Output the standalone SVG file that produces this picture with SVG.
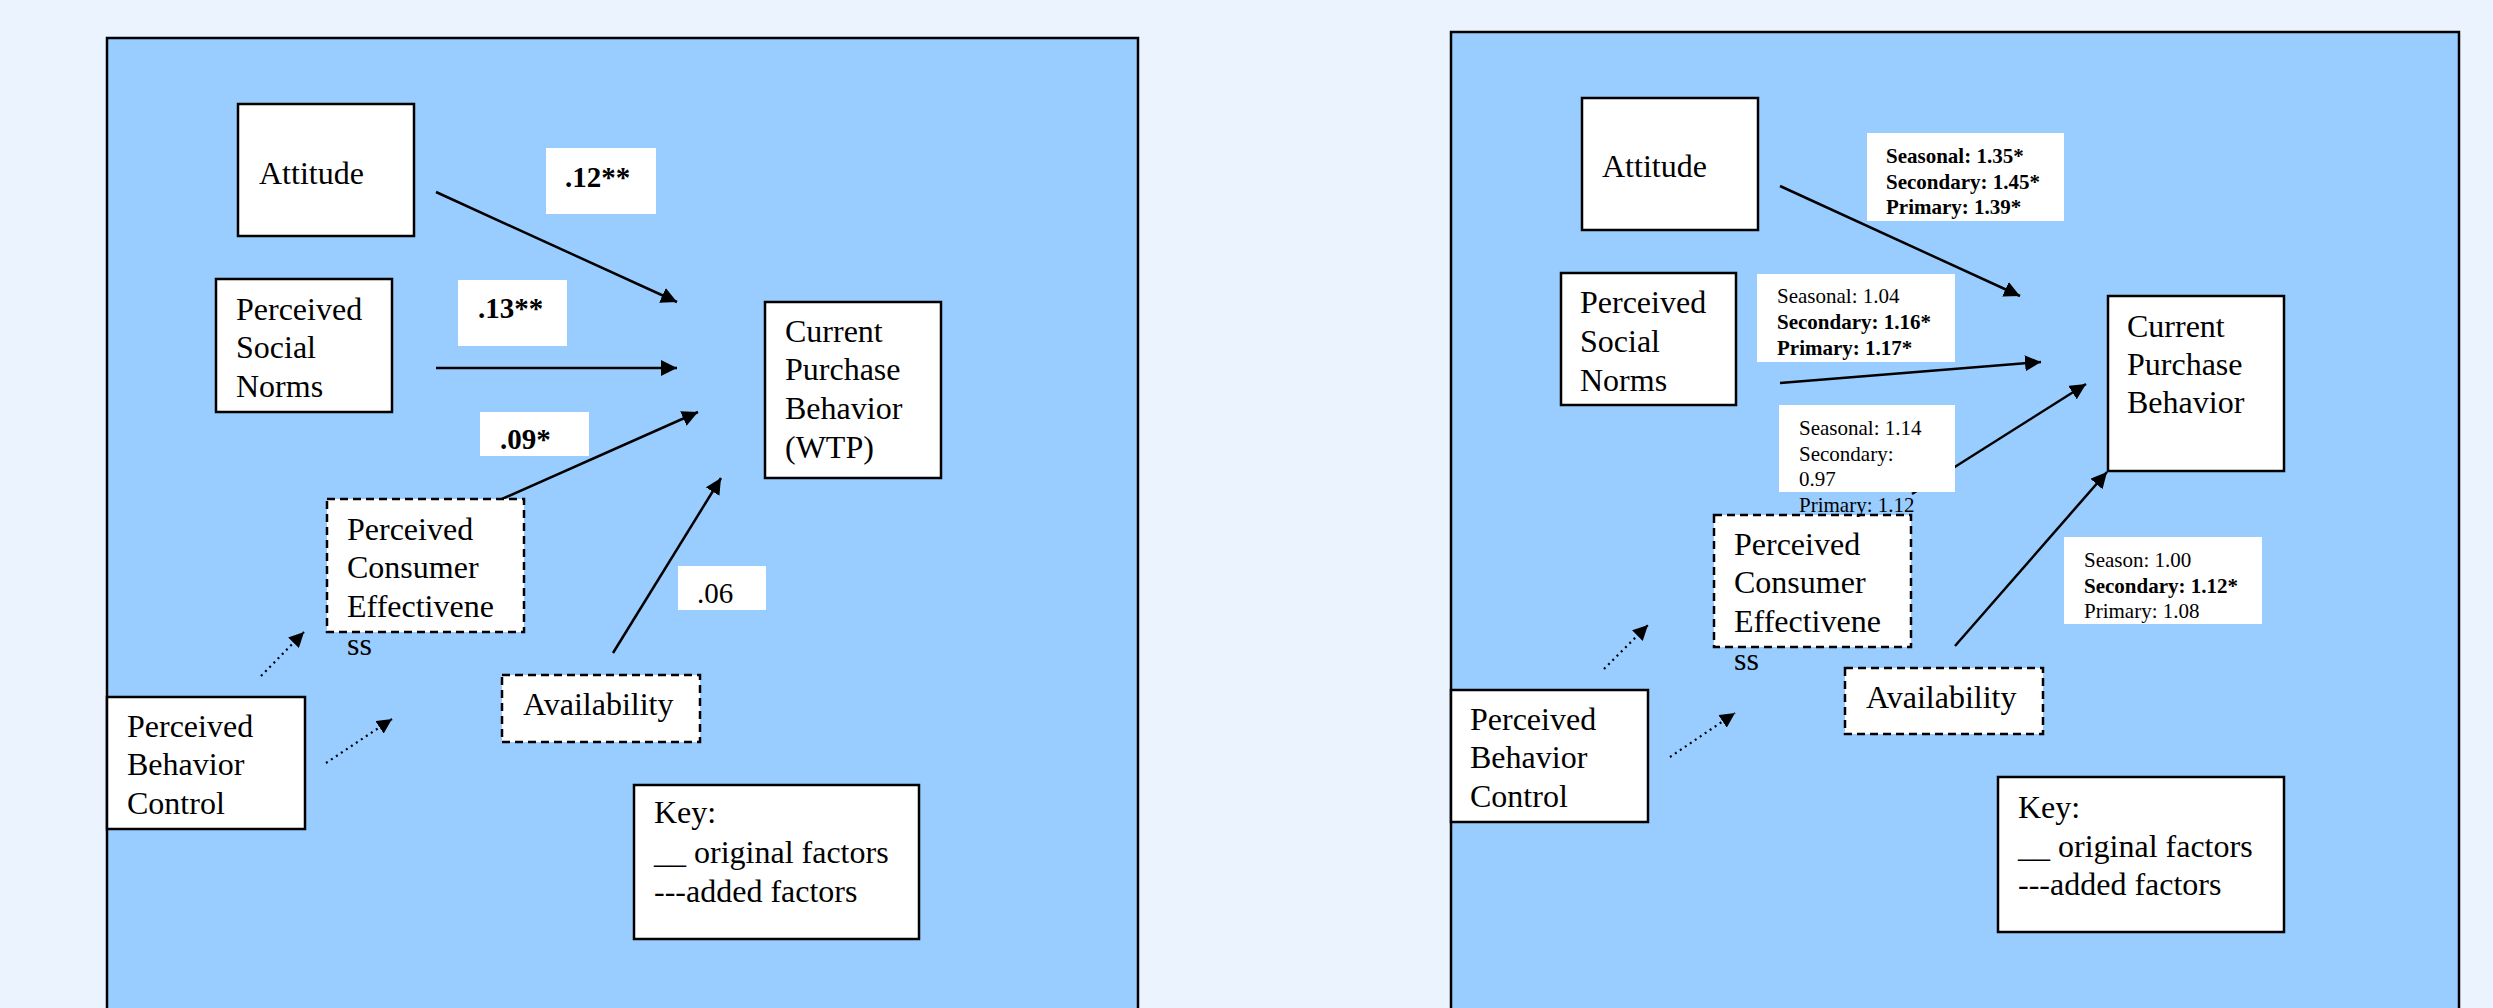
<svg xmlns="http://www.w3.org/2000/svg" width="2493" height="1008" viewBox="0 0 2493 1008">
<style>
  .panel { fill: #99CCFF; stroke: #000; stroke-width: 2.5; }
  .box { fill: #fff; stroke: #000; stroke-width: 2.5; }
  .dbox { fill: #fff; stroke: #000; stroke-width: 2.5; stroke-dasharray: 8 5; }
  .lbl { fill: #fff; stroke: none; }
  .t { font-family: 'Liberation Serif', 'Times New Roman', serif; font-size: 32px; fill: #000; }
  .l { font-family: 'Liberation Serif', 'Times New Roman', serif; font-size: 29px; fill: #000; }
  .s { font-family: 'Liberation Serif', 'Times New Roman', serif; font-size: 21px; fill: #000; }
  .b { font-weight: bold; }
  .arrow { fill: none; stroke: #000; stroke-width: 2.5; marker-end: url(#ah); }
  .dot { fill: none; stroke: #000; stroke-width: 2.2; stroke-dasharray: 2 4; marker-end: url(#ah2); }
</style>
<defs>
  <marker id="ah" viewBox="0 0 16 16" refX="16" refY="8" markerWidth="16" markerHeight="16" markerUnits="userSpaceOnUse" orient="auto">
    <path d="M0,0 L16,8 L0,16 z" fill="#000"/>
  </marker>
  <marker id="ah2" viewBox="0 0 16 16" refX="16" refY="8" markerWidth="15" markerHeight="15" markerUnits="userSpaceOnUse" orient="auto">
    <path d="M0,0 L16,8 L0,16 z" fill="#000"/>
  </marker>
</defs>
<rect x="0" y="0" width="2493" height="1008" fill="#EBF4FE"/>

<!-- LEFT PANEL -->
<g id="left-panel">
  <rect class="panel" x="107" y="38" width="1031" height="1000"/>
</g>

<g id="left-connectors">
  <line class="arrow" x1="436" y1="192" x2="677" y2="302"/>
  <line class="arrow" x1="436" y1="368" x2="677" y2="368"/>
  <line class="arrow" x1="502" y1="499" x2="698" y2="412"/>
  <line class="arrow" x1="613" y1="653" x2="721" y2="478"/>
  <line class="dot" x1="261" y1="676" x2="304" y2="632"/>
  <line class="dot" x1="326" y1="763" x2="392" y2="719"/>
</g>

<g id="left-labels">
  <g id="l-lbl-att"><rect class="lbl" x="546" y="148" width="110" height="66"/><text class="l b" x="565" y="187">.12**</text></g>
  <g id="l-lbl-sn"><rect class="lbl" x="458" y="280" width="109" height="66"/><text class="l b" x="478" y="318">.13**</text></g>
  <g id="l-lbl-pce"><rect class="lbl" x="480" y="412" width="109" height="44"/><text class="l b" x="500" y="449">.09*</text></g>
  <g id="l-lbl-av"><rect class="lbl" x="678" y="566" width="88" height="44"/><text class="l" x="697" y="603">.06</text></g>
</g>

<g id="l-attitude"><rect class="box" x="238" y="104" width="176" height="132"/><text class="t" x="259" y="184">Attitude</text></g>
<g id="l-social"><rect class="box" x="216" y="279" width="176" height="133"/>
  <text class="t" x="236" y="320">Perceived</text><text class="t" x="236" y="358">Social</text><text class="t" x="236" y="397">Norms</text></g>
<g id="l-cpb"><rect class="box" x="765" y="302" width="176" height="176"/>
  <text class="t" x="785" y="342">Current</text><text class="t" x="785" y="380">Purchase</text><text class="t" x="785" y="419">Behavior</text><text class="t" x="785" y="458">(WTP)</text></g>
<g id="l-pce"><rect class="dbox" x="327" y="499" width="197" height="133"/>
  <text class="t" x="347" y="540">Perceived</text><text class="t" x="347" y="578">Consumer</text><text class="t" x="347" y="617">Effectivene</text><text class="t" x="347" y="655">ss</text></g>
<g id="l-avail"><rect class="dbox" x="502" y="675" width="198" height="67"/><text class="t" x="523" y="715">Availability</text></g>
<g id="l-pbc"><rect class="box" x="107" y="697" width="198" height="132"/>
  <text class="t" x="127" y="737">Perceived</text><text class="t" x="127" y="775">Behavior</text><text class="t" x="127" y="814">Control</text></g>
<g id="l-key"><rect class="box" x="634" y="785" width="285" height="154"/>
  <text class="t" x="654" y="823">Key:</text><text class="t" x="654" y="863">__ original factors</text><text class="t" x="654" y="902">---added factors</text></g>

<!-- RIGHT PANEL -->
<g id="right-panel">
  <rect class="panel" x="1451" y="32" width="1008" height="1006"/>
</g>

<g id="right-connectors">
  <line class="arrow" x1="1780" y1="186" x2="2020" y2="296"/>
  <line class="arrow" x1="1780" y1="383" x2="2041" y2="362"/>
  <line class="arrow" x1="1912" y1="494" x2="2086" y2="384"/>
  <line class="arrow" x1="1955" y1="646" x2="2107" y2="472"/>
  <line class="dot" x1="1604" y1="669" x2="1648" y2="625"/>
  <line class="dot" x1="1670" y1="757" x2="1735" y2="713"/>
</g>

<g id="r-attitude"><rect class="box" x="1582" y="98" width="176" height="132"/><text class="t" x="1602" y="177">Attitude</text></g>
<g id="r-social"><rect class="box" x="1561" y="273" width="175" height="132"/>
  <text class="t" x="1580" y="313">Perceived</text><text class="t" x="1580" y="352">Social</text><text class="t" x="1580" y="391">Norms</text></g>
<g id="r-cpb"><rect class="box" x="2108" y="296" width="176" height="175"/>
  <text class="t" x="2127" y="337">Current</text><text class="t" x="2127" y="375">Purchase</text><text class="t" x="2127" y="413">Behavior</text></g>
<g id="r-pce"><rect class="dbox" x="1714" y="515" width="197" height="132"/>
  <text class="t" x="1734" y="555">Perceived</text><text class="t" x="1734" y="593">Consumer</text><text class="t" x="1734" y="632">Effectivene</text><text class="t" x="1734" y="670">ss</text></g>
<g id="r-avail"><rect class="dbox" x="1845" y="668" width="198" height="66"/><text class="t" x="1866" y="708">Availability</text></g>
<g id="r-pbc"><rect class="box" x="1451" y="690" width="197" height="132"/>
  <text class="t" x="1470" y="730">Perceived</text><text class="t" x="1470" y="768">Behavior</text><text class="t" x="1470" y="807">Control</text></g>
<g id="r-key"><rect class="box" x="1998" y="777" width="286" height="155"/>
  <text class="t" x="2018" y="818">Key:</text><text class="t" x="2018" y="857">__ original factors</text><text class="t" x="2018" y="895">---added factors</text></g>

<g id="right-labels">
  <g id="r-lbl-att"><rect class="lbl" x="1867" y="133" width="197" height="88"/>
    <text class="s b" x="1886" y="163">Seasonal: 1.35*</text><text class="s b" x="1886" y="189">Secondary: 1.45*</text><text class="s b" x="1886" y="214">Primary: 1.39*</text></g>
  <g id="r-lbl-sn"><rect class="lbl" x="1757" y="274" width="198" height="88"/>
    <text class="s" x="1777" y="303">Seasonal: 1.04</text><text class="s b" x="1777" y="329">Secondary: 1.16*</text><text class="s b" x="1777" y="355">Primary: 1.17*</text></g>
  <g id="r-lbl-pce"><rect class="lbl" x="1779" y="405" width="176" height="87"/>
    <text class="s" x="1799" y="435">Seasonal: 1.14</text><text class="s" x="1799" y="461">Secondary:</text><text class="s" x="1799" y="486">0.97</text><text class="s" x="1799" y="512">Primary: 1.12</text></g>
  <g id="r-lbl-av"><rect class="lbl" x="2064" y="537" width="198" height="87"/>
    <text class="s" x="2084" y="567">Season: 1.00</text><text class="s b" x="2084" y="593">Secondary: 1.12*</text><text class="s" x="2084" y="618">Primary: 1.08</text></g>
</g>
</svg>
